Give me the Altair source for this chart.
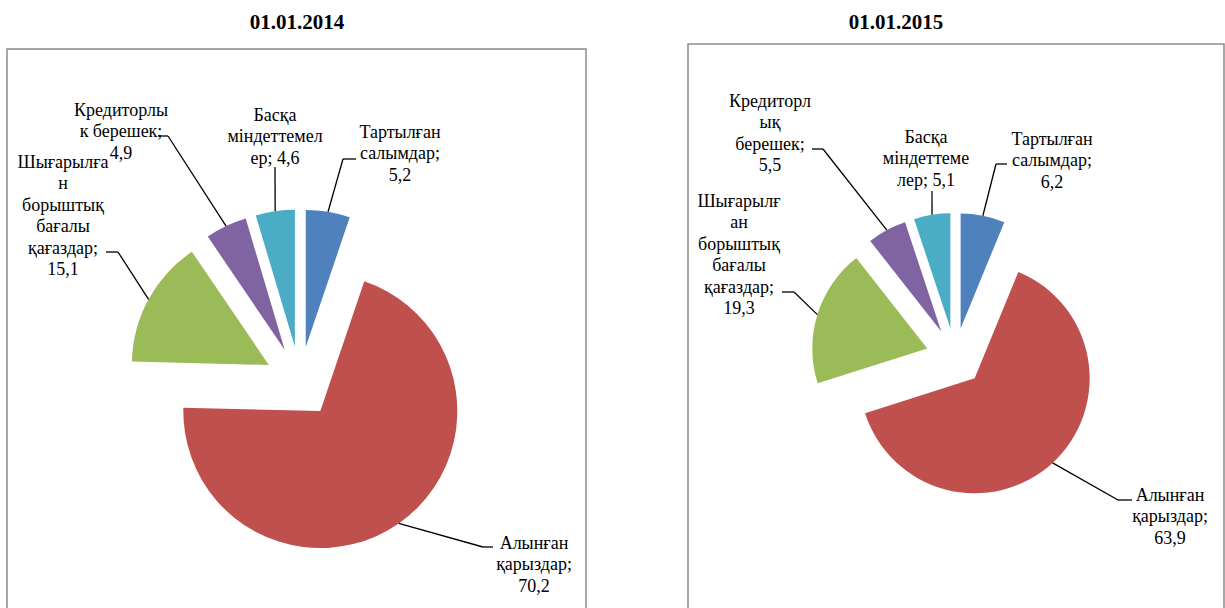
import math
import altair as alt
import pandas as pd

# ---------------- data ----------------
categories = [
    "Тартылған салымдар",
    "Алынған қарыздар",
    "Шығарылған борыштық бағалы қағаздар",
    "Кредиторлық берешек",
    "Басқа міндеттемелер",
]
values_2014 = [5.2, 70.2, 15.1, 4.9, 4.6]
values_2015 = [6.2, 63.9, 19.3, 5.5, 5.1]
dates = ["01.01.2014", "01.01.2015"]
colors = ["#4F81BD", "#C0504D", "#9BBB59", "#8064A2", "#4BACC6"]

# label wrapping as in the source ({v} = the value)
wrap_2014 = [
    ["Тартылған", "салымдар;", "{v}"],
    ["Алынған", "қарыздар;", "{v}"],
    ["Шығарылға", "н", "борыштық", "бағалы", "қағаздар;", "{v}"],
    ["Кредиторлы", "к берешек;", "{v}"],
    ["Басқа", "міндеттемел", "ер; {v}"],
]
wrap_2015 = [
    ["Тартылған", "салымдар;", "{v}"],
    ["Алынған", "қарыздар;", "{v}"],
    ["Шығарылғ", "ан", "борыштық", "бағалы", "қағаздар;", "{v}"],
    ["Кредиторл", "ық", "берешек;", "{v}"],
    ["Басқа", "міндеттеме", "лер; {v}"],
]

# ---------------- layout (pixels) ----------------
W, H = 1225, 608
FONT = "Liberation Serif"
LABEL_SIZE = 18
LINE_H = 21.4
BASE_SHIFT = 6  # baseline below the first line's visual centre

layout_2014 = dict(
    cx=300, cy=382, r=137, d=35.5,
    label_xy=[(400, 132), (534, 543), (63, 162), (121, 110), (275, 115)],
    elbow=[(343, 159), (483, 547), (118, 252), (168, 136), (275, 167)],
    end=[(356, 159), (493, 547), (106, 252), (158, 136), (275, 167)],
)
layout_2015 = dict(
    cx=955, cy=357, r=115, d=29,
    label_xy=[(1052, 139), (1170, 495), (739, 201), (770, 101), (926, 137)],
    elbow=[(996, 164), (1118, 500), (794, 292), (823, 149), (932, 191)],
    end=[(1007, 164), (1132, 500), (782, 292), (812, 149), (932, 191)],
)
box_x0 = [7, 688]
box_x1 = [586, 1224]
box_y0 = [49, 44]
box_y1 = [660, 660]
title_x = [297, 896]
title_y = [29, 29]


def fmt(v):
    return f"{v:.1f}".replace(".", ",")


def px(field):
    return alt.X(field, type="quantitative", scale=None, axis=None)


def py(field):
    return alt.Y(field, type="quantitative", scale=None, axis=None)


def pie(values, wraps, L):
    df = pd.DataFrame({
        "category": categories,
        "value": values,
        "idx": list(range(len(values))),
        "lines": [[s.format(v=fmt(v)) for s in w] for w, v in zip(wraps, values)],
        "tx": [p[0] for p in L["label_xy"]],
        "ty": [p[1] + BASE_SHIFT for p in L["label_xy"]],
        "ex": [p[0] for p in L["elbow"]],
        "ey": [p[1] for p in L["elbow"]],
        "fx": [p[0] for p in L["end"]],
        "fy": [p[1] for p in L["end"]],
    })
    cx, cy, r, d = L["cx"], L["cy"], L["r"], L["d"]
    base = (
        alt.Chart(df)
        .transform_window(cum="sum(value)", sort=[alt.SortField("idx")])
        .transform_joinaggregate(total="sum(value)")
        .transform_calculate(
            f0="(datum.cum - datum.value) / datum.total",
            f1="datum.cum / datum.total",
            a="PI * (2 * datum.cum - datum.value) / datum.total",
            ox=f"{cx} + {d} * sin(datum.a)",
            oy=f"{cy} - {d} * cos(datum.a)",
            sx=f"datum.ox + {r} * sin(datum.a)",
            sy=f"datum.oy - {r} * cos(datum.a)",
        )
    )
    arcs = base.mark_arc(radius=r).encode(
        theta=alt.Theta("f0:Q", stack=None,
                        scale=alt.Scale(domain=[0, 1], range=[0, 2 * math.pi])),
        theta2="f1:Q",
        x=px("ox"),
        y=py("oy"),
        color=alt.Color("category:N", legend=None,
                        scale=alt.Scale(domain=categories, range=colors)),
    )
    rule1 = base.mark_rule(color="black", strokeWidth=1.3).encode(
        x=px("sx"), y=py("sy"), x2="ex:Q", y2="ey:Q"
    )
    rule2 = base.mark_rule(color="black", strokeWidth=1.3).encode(
        x=px("ex"), y=py("ey"), x2="fx:Q", y2="fy:Q"
    )
    labels = base.mark_text(
        font=FONT, fontSize=LABEL_SIZE, lineHeight=LINE_H, align="center",
        baseline="alphabetic", color="black"
    ).encode(x=px("tx"), y=py("ty"), text="lines")
    return [arcs, rule1, rule2, labels]


boxes = alt.Chart(pd.DataFrame({
    "x0": box_x0, "x1": box_x1, "y0": box_y0, "y1": box_y1
})).mark_rect(filled=False, stroke="#8a8a8a", strokeWidth=1.5).encode(
    x=px("x0"), x2="x1:Q", y=py("y0"), y2="y1:Q"
)

titles = alt.Chart(pd.DataFrame({
    "date": dates, "tx": title_x, "ty": title_y
})).mark_text(
    font=FONT, fontSize=21, fontWeight="bold", align="center",
    baseline="alphabetic", color="black"
).encode(x=px("tx"), y=py("ty"), text="date:N")

chart = alt.layer(
    boxes,
    *pie(values_2014, wrap_2014, layout_2014),
    *pie(values_2015, wrap_2015, layout_2015),
    titles,
).properties(
    width=W, height=H, padding=0,
    autosize=alt.AutoSizeParams(type="none"),
    background="white",
).configure_view(strokeOpacity=0)

chart.save("out.html", embed_options={"renderer": "svg", "actions": False})
